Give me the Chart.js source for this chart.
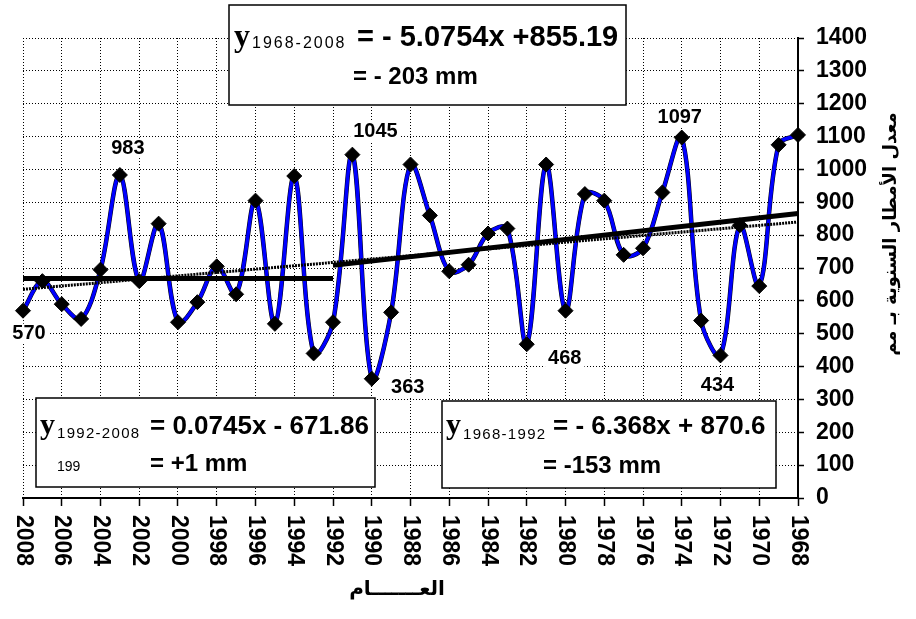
<!DOCTYPE html>
<html>
<head>
<meta charset="utf-8">
<script src="https://cdn.jsdelivr.net/npm/chart.js@4/dist/chart.umd.min.js"></script>
<style>
  html, body { margin: 0; padding: 0; background: #fff; }
  canvas { display: block; }
</style>
</head>
<body>
<canvas id="rainChart" width="916" height="619"></canvas>
<script>
// annual rainfall (mm), 2008 -> 1968
const years = [2008, 2007, 2006, 2005, 2004, 2003, 2002, 2001, 2000, 1999,
  1998, 1997, 1996, 1995, 1994, 1993, 1992, 1991, 1990, 1989,
  1988, 1987, 1986, 1985, 1984, 1983, 1982, 1981, 1980, 1979,
  1978, 1977, 1976, 1975, 1974, 1973, 1972, 1971, 1970, 1969, 1968];
const rainfall = [570, 660, 590, 545, 695, 983, 660, 835, 535, 596,
  705, 620, 905, 530, 980, 440, 535, 1045, 363, 565,
  1015, 860, 690, 710, 805, 820, 468, 1015, 570, 925,
  905, 740, 760, 930, 1097, 540, 434, 830, 645, 1075, 1105];

// trend lines
const trendAllYears = [2008, 1968];
const trendAll = [635, 840];
const trendLateYears = [2008, 1992];
const trendLate = [668, 668];
const trendEarlyYears = [1992, 1968];
const trendEarly = [708, 866];

// value labels
const labelYears = [2008, 2003, 1991, 1990, 1982, 1972, 1974];
const labelOffsets = [[6, 23], [8, -27], [23, -23], [36, 9], [38, 14], [-3, 30], [-2, -20]];

const yTitle = 'معدل الأمطار السنوية بـ مم';
const xTitle = 'العـــــــام';

const pts = (xs, ys) => xs.map((x, i) => ({ x: x, y: ys[i] }));

// [text, font, x, baseline, letterSpacing]
const equationBoxes = [
  { rect: [229, 5, 397, 100], runs: [
    ['y', 'bold 32px "Liberation Serif"', 234, 46],
    ['1968-2008', '16px "Liberation Sans"', 252, 48, '2px'],
    ['= - 5.0754x +855.19', 'bold 29px "Liberation Sans"', 357, 46],
    ['= - 203 mm', 'bold 24px "Liberation Sans"', 353, 84]
  ]},
  { rect: [36, 398, 339, 89], runs: [
    ['y', 'bold 30px "Liberation Serif"', 40, 434],
    ['1992-2008', '15px "Liberation Sans"', 57, 438, '1.3px'],
    ['= 0.0745x - 671.86', 'bold 26px "Liberation Sans"', 150, 434],
    ['199', '14px "Liberation Sans"', 57, 471],
    ['= +1 mm', 'bold 24px "Liberation Sans"', 150, 471]
  ]},
  { rect: [442, 401, 334, 87], runs: [
    ['y', 'bold 30px "Liberation Serif"', 446, 434],
    ['1968-1992', '15px "Liberation Sans"', 463, 439, '1.3px'],
    ['= - 6.368x + 870.6', 'bold 26px "Liberation Sans"', 553, 434],
    ['= -153 mm', 'bold 24px "Liberation Sans"', 543, 473]
  ]}
];

const extras = {
  id: 'extras',
  afterDraw(chart) {
    const ctx = chart.ctx;
    const xs = chart.scales.x;
    const ys = chart.scales.y;

    // x tick labels, rotated to read downward
    ctx.save();
    ctx.fillStyle = '#000';
    ctx.font = 'bold 23px "Liberation Sans"';
    ctx.textAlign = 'left';
    ctx.textBaseline = 'middle';
    xs.ticks.forEach(t => {
      ctx.save();
      ctx.translate(xs.getPixelForValue(t.value), 515);
      ctx.rotate(Math.PI / 2);
      ctx.fillText(String(t.value), 0, 0);
      ctx.restore();
    });
    ctx.restore();

    // value labels
    ctx.save();
    ctx.font = 'bold 20px "Liberation Sans"';
    ctx.textAlign = 'center';
    ctx.textBaseline = 'middle';
    labelYears.forEach((yr, i) => {
      const v = rainfall[years.indexOf(yr)];
      const px = xs.getPixelForValue(yr) + labelOffsets[i][0];
      const py = ys.getPixelForValue(v) + labelOffsets[i][1];
      const w = ctx.measureText(String(v)).width;
      ctx.fillStyle = '#fff';
      ctx.fillRect(px - w / 2 - 3, py - 10, w + 6, 20);
      ctx.fillStyle = '#000';
      ctx.fillText(String(v), px, py);
    });
    ctx.restore();

    // equation boxes
    ctx.save();
    equationBoxes.forEach(b => {
      const [bx, by, bw, bh] = b.rect;
      ctx.fillStyle = '#fff';
      ctx.fillRect(bx, by, bw, bh);
      ctx.strokeStyle = '#000';
      ctx.lineWidth = 1.5;
      ctx.strokeRect(bx, by, bw, bh);
      ctx.fillStyle = '#000';
      ctx.textAlign = 'left';
      ctx.textBaseline = 'alphabetic';
      b.runs.forEach(r => {
        ctx.font = r[1];
        ctx.letterSpacing = r[4] || '0px';
        ctx.fillText(r[0], r[2], r[3]);
      });
    });
    ctx.restore();

    // axis titles
    ctx.save();
    ctx.fillStyle = '#000';
    ctx.font = 'bold 18px "DejaVu Sans"';
    ctx.textAlign = 'center';
    ctx.textBaseline = 'middle';
    ctx.translate(891, 234);
    ctx.rotate(-Math.PI / 2);
    ctx.fillText(yTitle, 0, 0);
    ctx.restore();

    ctx.save();
    ctx.fillStyle = '#000';
    ctx.font = 'bold 20px "DejaVu Sans"';
    ctx.textAlign = 'center';
    ctx.textBaseline = 'middle';
    ctx.fillText(xTitle, 397, 590);
    ctx.restore();
  }
};

new Chart(document.getElementById('rainChart'), {
  type: 'line',
  data: {
    datasets: [
      {
        data: pts(trendAllYears, trendAll),
        borderColor: '#000',
        borderWidth: 3,
        borderDash: [2, 1],
        pointRadius: 0,
        tension: 0,
        clip: false
      },
      {
        data: pts(trendLateYears, trendLate),
        borderColor: '#000',
        borderWidth: 5,
        pointRadius: 0,
        tension: 0,
        clip: false
      },
      {
        data: pts(trendEarlyYears, trendEarly),
        borderColor: '#000',
        borderWidth: 5,
        pointRadius: 0,
        tension: 0,
        clip: false
      },
      {
        data: pts(years, rainfall),
        borderColor: '#0000ff',
        borderWidth: 3.5,
        tension: 0.35,
        pointStyle: 'rectRot',
        pointRadius: 7.5,
        pointBackgroundColor: '#000',
        pointBorderColor: '#000',
        pointBorderWidth: 1,
        clip: false
      },
      {
        data: pts(years, rainfall),
        borderColor: '#000',
        borderWidth: 4.5,
        tension: 0.35,
        pointRadius: 0,
        clip: false
      }
    ]
  },
  options: {
    responsive: false,
    animation: false,
    events: [],
    layout: { padding: { left: 23, top: 38, right: 0, bottom: 0 } },
    plugins: {
      legend: { display: false },
      tooltip: { enabled: false }
    },
    scales: {
      x: {
        type: 'linear',
        reverse: true,
        min: 1968,
        max: 2008,
        afterFit: s => { s.height = 121; },
        ticks: { display: false, stepSize: 2 },
        grid: {
          color: '#000',
          lineWidth: 1,
          tickLength: 8,
          tickColor: '#000',
          tickWidth: 1.5
        },
        border: { color: '#000', width: 2, dash: [1, 2] }
      },
      y: {
        position: 'right',
        min: 0,
        max: 1400,
        afterFit: s => { s.width = 118; },
        ticks: {
          stepSize: 100,
          autoSkip: false,
          color: '#000',
          padding: 12,
          callback: v => String(v),
          font: { family: 'Liberation Sans', size: 23, weight: 'bold' }
        },
        grid: {
          color: '#000',
          lineWidth: 1,
          tickLength: 6,
          tickColor: '#000',
          tickWidth: 1.5
        },
        border: { color: '#000', width: 2, dash: [1, 2] }
      }
    }
  },
  plugins: [extras]
});
</script>
</body>
</html>
